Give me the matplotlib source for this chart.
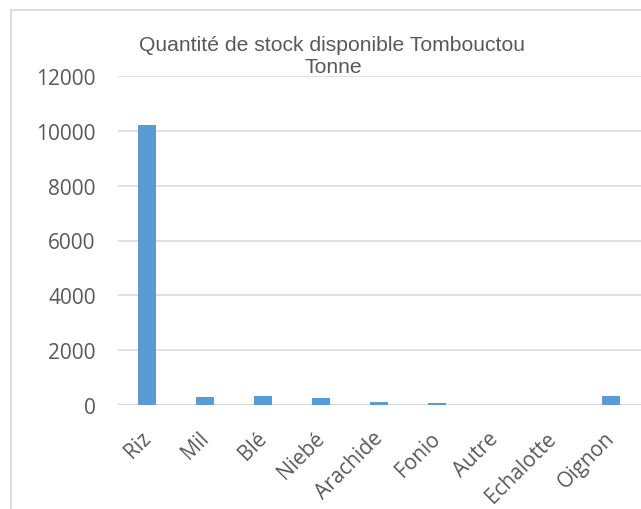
import matplotlib
matplotlib.use("Agg")
import matplotlib.pyplot as plt
import matplotlib.transforms as mtransforms
from matplotlib.lines import Line2D

# donnees
produits = ['Riz', 'Mil', 'Blé', 'Niebé', 'Arachide', 'Fonio', 'Autre', 'Echalotte', 'Oignon']
stock = [10200, 290, 320, 240, 110, 75, 0, 0, 320]
yticks = [0, 2000, 4000, 6000, 8000, 10000, 12000]

W, H = 641, 510
fig = plt.figure(figsize=(W / 100, H / 100), dpi=100)

# cadre du graphique (coupe a droite et en bas)
fig.add_artist(Line2D([10.5 / W, 10.5 / W], [0, 1 - 10.5 / H], color='#d9d9d9', lw=1.2))
fig.add_artist(Line2D([10.5 / W, 1], [1 - 10.5 / H, 1 - 10.5 / H], color='#d9d9d9', lw=1.2))

ax = fig.add_axes([118 / W, 104 / H, (W - 118) / W, (406 - 77) / H])
x = range(len(produits))
ax.bar(x, stock, width=0.31, color='#5b9bd5', zorder=3)

ax.set_xlim(-0.5, 8.52)
ax.set_ylim(0, 12000)
ax.set_yticks(yticks)
ax.yaxis.grid(True, color='#d9d9d9', lw=1.1, zorder=0)
for s in ax.spines.values():
    s.set_visible(False)
ax.axhline(0, color='#d9d9d9', lw=1.6, zorder=2)

ax.tick_params(axis='y', length=0, pad=16, labelsize=15, labelcolor='#595959')
ax.tick_params(axis='x', length=0, pad=16, labelsize=15, labelcolor='#595959')
for lab in ax.get_yticklabels():
    lab.set_fontfamily('Open Sans')

ax.set_xticks(list(x))
ax.set_xticklabels(produits, rotation=45, ha='right', va='top',
                   rotation_mode='anchor', family='Open Sans')
offset = mtransforms.ScaledTranslation(-7 / 100, 0, fig.dpi_scale_trans)
for lab in ax.get_xticklabels():
    lab.set_transform(lab.get_transform() + offset)

fig.text(332 / W, 1 - 51 / H, 'Quantité de stock disponible Tombouctou',
         ha='center', va='baseline', fontsize=15.2, color='#595959',
         family='Liberation Sans')
fig.text(333 / W, 1 - 73 / H, 'Tonne',
         ha='center', va='baseline', fontsize=15.2, color='#595959',
         family='Liberation Sans')

fig.savefig('out.png', dpi=100)
